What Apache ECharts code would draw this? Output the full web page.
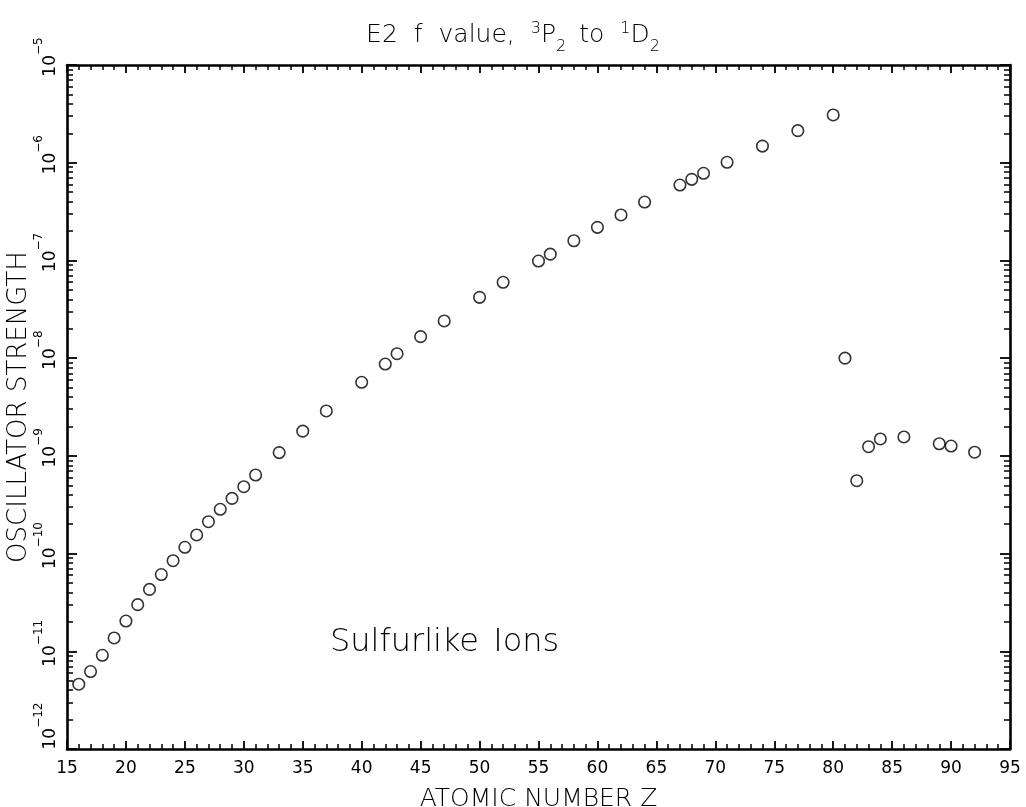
<!DOCTYPE html>
<html>
<head>
<meta charset="utf-8">
<title>E2 f value, 3P2 to 1D2</title>
<script src="https://cdn.jsdelivr.net/npm/echarts@6/dist/echarts.min.js"></script>
<style>
html, body { margin: 0; padding: 0; background: #fff; }
#chart { width: 1026px; height: 807px; }
</style>
</head>
<body>
<div id="chart"></div>
<script>
// sulfurlike ions: atomic number and E2 oscillator strength
const atomicNumbers = [
    16, 17, 18, 19, 20, 21, 22, 23, 24, 25, 26, 27, 28, 29, 30, 31,
    33, 35, 37, 40, 42, 43, 45, 47, 50, 52, 55, 56, 58, 60, 62, 64,
    67, 68, 69, 71, 74, 77, 80, 81, 82, 83, 84, 86, 89, 90, 92
];
const oscStrengths = [
    4.6e-12, 6.2e-12, 9.1e-12, 1.37e-11, 2.04e-11, 3.0e-11, 4.3e-11, 6.1e-11,
    8.45e-11, 1.16e-10, 1.55e-10, 2.12e-10, 2.84e-10, 3.67e-10, 4.83e-10, 6.37e-10,
    1.08e-9, 1.79e-9, 2.88e-9, 5.66e-9, 8.7e-9, 1.11e-8, 1.66e-8, 2.4e-8,
    4.19e-8, 5.97e-8, 9.86e-8, 1.16e-7, 1.59e-7, 2.18e-7, 2.92e-7, 3.96e-7,
    5.91e-7, 6.76e-7, 7.8e-7, 1.01e-6, 1.48e-6, 2.13e-6, 3.08e-6, 1.0e-8,
    5.57e-10, 1.24e-9, 1.49e-9, 1.56e-9, 1.33e-9, 1.26e-9, 1.09e-9
];

// axis ranges and ticks
const xRange = [15, 95];
const xStep = 5;
const yDecades = [-12, -11, -10, -9, -8, -7, -6, -5];
const minorMultipliers = [2, 3, 4, 5, 6, 7, 8, 9];

const FONT = 'DejaVu Sans';
const INK = '#000';

// minor ticks of the log axis, as exponents for the helper axes
const minorExps = [];
yDecades.slice(0, -1).forEach(d => {
    minorMultipliers.forEach(m => minorExps.push(d + Math.log10(m)));
});

function yLabel(v) {
    const e = Math.round(Math.log10(v));
    const sup = '\u2212' + Math.abs(e);
    if (e === yDecades[0]) return '{bmin|10}{s|' + sup + '}';
    return '{b|10}{s|' + sup + '}';
}

const frameLine = { show: true, onZero: false, lineStyle: { color: INK, width: 2.6 } };

function xAxisDef(pos, labels) {
    return {
        type: 'value',
        position: pos,
        min: xRange[0],
        max: xRange[1],
        interval: xStep,
        axisLine: frameLine,
        axisTick: { show: true, inside: true, length: 8, lineStyle: { color: INK, width: 1.8 } },
        minorTick: { show: true, splitNumber: 5, length: 5, lineStyle: { color: INK, width: 1.5 } },
        splitLine: { show: false },
        minorSplitLine: { show: false },
        axisLabel: {
            show: labels,
            fontFamily: FONT,
            fontSize: 17,
            color: INK,
            margin: 11
        },
        name: labels ? 'ATOMIC NUMBER Z' : '',
        nameLocation: 'middle',
        nameGap: 38,
        nameMoveOverlap: false,
        nameTextStyle: { fontFamily: FONT, fontSize: 25, color: INK, fontWeight: 200 }
    };
}

function logAxisDef(pos, labels) {
    return {
        type: 'log',
        logBase: 10,
        position: pos,
        min: Math.pow(10, yDecades[0]),
        max: Math.pow(10, yDecades[yDecades.length - 1]),
        splitNumber: yDecades.length - 1,
        axisLine: frameLine,
        axisTick: { show: true, inside: true, length: 10, lineStyle: { color: INK, width: 1.8 } },
        splitLine: { show: false },
        axisLabel: {
            show: labels,
            rotate: 90,
            margin: -2,
            color: INK,
            formatter: yLabel,
            rich: {
                b: { fontFamily: FONT, fontSize: 17, color: INK, padding: [0, 0, 0, 16] },
                bmin: { fontFamily: FONT, fontSize: 17, color: INK, padding: [0, 0, 0, 46] },
                s: { fontFamily: FONT, fontSize: 12, color: INK, padding: [0, 0, 24, 0] }
            }
        },
        name: labels ? 'OSCILLATOR STRENGTH' : '',
        nameLocation: 'middle',
        nameGap: 35,
        nameMoveOverlap: false,
        nameTextStyle: { fontFamily: FONT, fontSize: 26, color: INK, fontWeight: 200 }
    };
}

// helper axes in exponent space, only for the 2..9 minor ticks
function minorAxisDef(pos) {
    return {
        type: 'value',
        position: pos,
        min: yDecades[0],
        max: yDecades[yDecades.length - 1],
        axisLine: { show: false },
        axisLabel: { show: false },
        splitLine: { show: false },
        axisTick: {
            show: true,
            inside: true,
            length: 6,
            customValues: minorExps,
            lineStyle: { color: INK, width: 1.5 }
        }
    };
}

const chart = echarts.init(document.getElementById('chart'), null, { renderer: 'canvas' });

const titleFont = { fontFamily: FONT, color: INK, fontWeight: 200 };

const option = {
    backgroundColor: '#fff',
    animation: false,
    title: [
        {
            // words spaced out like the original plot lettering
            text: '{w|E2 }{w|f }{w|value, }{sup|3}{b|P}{subw|2 }{w|to }{sup|1}{b|D}{sub|2}',
            left: 'center',
            top: 15,
            padding: 0,
            textStyle: {
                rich: {
                    b: Object.assign({ fontSize: 25 }, titleFont),
                    w: Object.assign({ fontSize: 25, padding: [0, 8, 0, 0] }, titleFont),
                    sup: Object.assign({ fontSize: 16, padding: [0, 0, 12, 0] }, titleFont),
                    sub: Object.assign({ fontSize: 16, padding: [24, 0, 0, 0] }, titleFont),
                    subw: Object.assign({ fontSize: 16, padding: [24, 8, 0, 0] }, titleFont)
                }
            }
        },
        {
            text: '{a|Sulfurlike }{a|Ions}',
            left: 330,
            top: 627,
            padding: 0,
            textStyle: {
                rich: {
                    a: Object.assign({ fontSize: 32, padding: [0, 4, 0, 0] }, titleFont)
                }
            }
        }
    ],
    grid: {
        left: 67,
        right: 16,
        top: 65,
        bottom: 58,
        containLabel: false,
        outerBoundsMode: 'none'
    },
    xAxis: [xAxisDef('bottom', true), xAxisDef('top', false)],
    yAxis: [
        logAxisDef('left', true),
        logAxisDef('right', false),
        minorAxisDef('left'),
        minorAxisDef('right')
    ],
    series: [
        {
            type: 'scatter',
            xAxisIndex: 0,
            yAxisIndex: 0,
            data: atomicNumbers.map((z, i) => [z, oscStrengths[i]]),
            symbol: 'circle',
            symbolSize: 11.5,
            itemStyle: { color: 'rgba(0,0,0,0)', borderColor: INK, borderWidth: 1.6 },
            emphasis: { disabled: true },
            silent: true
        }
    ]
};

chart.setOption(option);
</script>
</body>
</html>
